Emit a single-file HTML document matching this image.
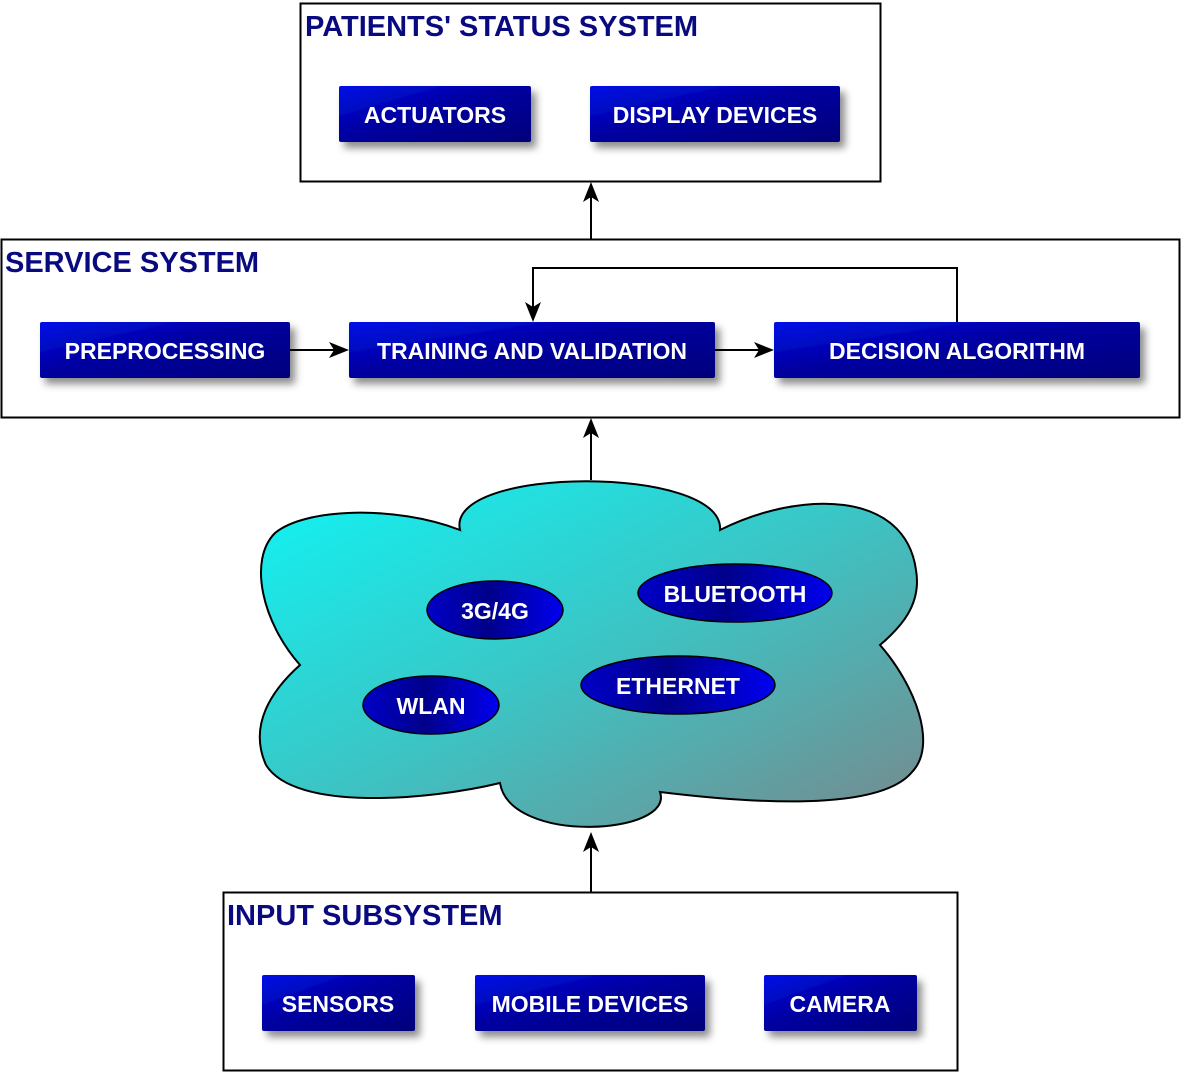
<!DOCTYPE html>
<html><head><meta charset="utf-8"><style>
html,body{margin:0;padding:0;background:#fff;}
svg{display:block;}
text{font-family:"Liberation Sans",Arial,sans-serif;font-weight:bold;}
.t{fill:#0a0a80;font-size:29px;}
.b{fill:#fff;font-size:23px;text-anchor:middle;dominant-baseline:central;}
</style></head><body>
<svg width="1181" height="1075" viewBox="0 0 1181 1075" xmlns="http://www.w3.org/2000/svg">
<defs>
<linearGradient id="bg" x1="0" y1="0" x2="1" y2="1">
<stop offset="0" stop-color="#0010e8"/><stop offset="0.45" stop-color="#0000a0"/><stop offset="1" stop-color="#00007a"/>
</linearGradient>
<linearGradient id="eg" x1="0" y1="0" x2="1" y2="0">
<stop offset="0" stop-color="#0000c8"/><stop offset="0.45" stop-color="#00008a"/><stop offset="1" stop-color="#0000f0"/>
</linearGradient>
<linearGradient id="cg" x1="0" y1="0" x2="1" y2="1">
<stop offset="0" stop-color="#10f4f4"/><stop offset="0.5" stop-color="#3cc4c4"/><stop offset="1" stop-color="#78888c"/>
</linearGradient>
<filter id="sh" x="-10%" y="-20%" width="130%" height="170%">
<feDropShadow dx="5" dy="6" stdDeviation="4" flood-color="#000" flood-opacity="0.45"/>
</filter>
</defs>

<!-- Patients -->
<rect x="300.5" y="3.5" width="580" height="178" fill="#fff" stroke="#000" stroke-width="2"/>
<text class="t" x="305" y="36">PATIENTS' STATUS SYSTEM</text>
<rect x="339" y="86" width="192" height="56" rx="2" fill="url(#bg)" filter="url(#sh)"/>
<text class="b" x="435" y="115">ACTUATORS</text>
<rect x="590" y="86" width="250" height="56" rx="2" fill="url(#bg)" filter="url(#sh)"/>
<text class="b" x="715" y="115">DISPLAY DEVICES</text>

<line x1="591" y1="239" x2="591" y2="195" stroke="#000" stroke-width="2"/>
<polygon points="591,182 599,202 591,197 583,202" fill="#000"/>

<!-- Service -->
<rect x="1.5" y="239.5" width="1178" height="178" fill="#fff" stroke="#000" stroke-width="2"/>
<text class="t" x="5" y="272">SERVICE SYSTEM</text>
<rect x="40" y="322" width="250" height="56" rx="2" fill="url(#bg)" filter="url(#sh)"/>
<text class="b" x="165" y="351">PREPROCESSING</text>
<rect x="349" y="322" width="366" height="56" rx="2" fill="url(#bg)" filter="url(#sh)"/>
<text class="b" x="532" y="351">TRAINING AND VALIDATION</text>
<rect x="774" y="322" width="366" height="56" rx="2" fill="url(#bg)" filter="url(#sh)"/>
<text class="b" x="957" y="351">DECISION ALGORITHM</text>
<line x1="290" y1="350" x2="336" y2="350" stroke="#000" stroke-width="2"/>
<polygon points="349,350 329,358 334,350 329,342" fill="#000"/>
<line x1="715" y1="350" x2="761" y2="350" stroke="#000" stroke-width="2"/>
<polygon points="774,350 754,358 759,350 754,342" fill="#000"/>
<polyline points="957,322 957,268 533,268 533,310" fill="none" stroke="#000" stroke-width="2"/>
<polygon points="533,322 525,302 533,307 541,302" fill="#000"/>

<line x1="591" y1="480" x2="591" y2="430" stroke="#000" stroke-width="2"/>
<polygon points="591,418 599,438 591,433 583,438" fill="#000"/>

<!-- Cloud -->
<path d="M460,530 C445,465 725,465 720,530 C800,490 905,490 916,570 C922,605 900,628 880,645 C915,685 938,745 912,772 C885,805 790,808 660,792 C675,835 510,845 500,783 C430,800 295,812 266,765 C248,725 272,690 300,665 C262,622 248,560 275,533 C305,508 395,505 460,530 Z" fill="url(#cg)" stroke="#000" stroke-width="2"/>
<ellipse cx="495" cy="610" rx="68" ry="29" fill="url(#eg)" stroke="#000" stroke-width="1.5"/>
<text class="b" x="495" y="611">3G/4G</text>
<ellipse cx="735" cy="593" rx="97" ry="29" fill="url(#eg)" stroke="#000" stroke-width="1.5"/>
<text class="b" x="735" y="594">BLUETOOTH</text>
<ellipse cx="678" cy="685" rx="97" ry="29" fill="url(#eg)" stroke="#000" stroke-width="1.5"/>
<text class="b" x="678" y="686">ETHERNET</text>
<ellipse cx="431" cy="705" rx="68" ry="29" fill="url(#eg)" stroke="#000" stroke-width="1.5"/>
<text class="b" x="431" y="706">WLAN</text>

<line x1="591" y1="892" x2="591" y2="845" stroke="#000" stroke-width="2"/>
<polygon points="591,832 599,852 591,847 583,852" fill="#000"/>

<!-- Input -->
<rect x="223.5" y="892.5" width="734" height="178" fill="#fff" stroke="#000" stroke-width="2"/>
<text class="t" x="227" y="925">INPUT SUBSYSTEM</text>
<rect x="262" y="975" width="153" height="56" rx="2" fill="url(#bg)" filter="url(#sh)"/>
<text class="b" x="338" y="1004">SENSORS</text>
<rect x="475" y="975" width="230" height="56" rx="2" fill="url(#bg)" filter="url(#sh)"/>
<text class="b" x="590" y="1004">MOBILE DEVICES</text>
<rect x="764" y="975" width="153" height="56" rx="2" fill="url(#bg)" filter="url(#sh)"/>
<text class="b" x="840" y="1004">CAMERA</text>
</svg>
</body></html>
